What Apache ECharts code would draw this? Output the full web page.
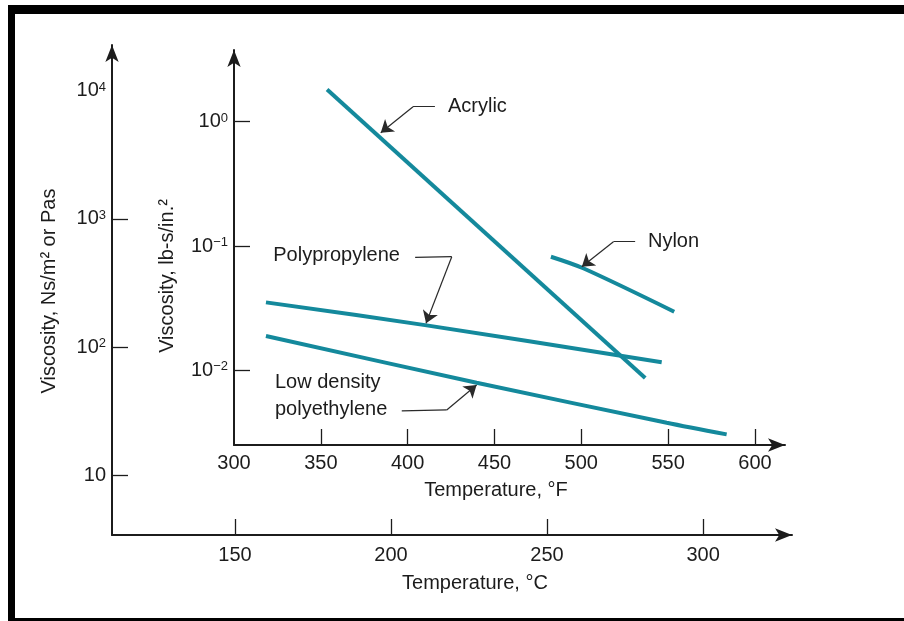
<!DOCTYPE html>
<html>
<head>
<meta charset="utf-8">
<script src="https://cdn.jsdelivr.net/npm/echarts@6/dist/echarts.min.js"></script>
<style>
html,body{margin:0;padding:0;background:#fff;}
#chart{width:904px;height:621px;}
</style>
</head>
<body>
<div id="chart"></div>
<script>
// ---- data (inner axes: temperature °F, viscosity lb-s/in.²) ----
const fahrenheitTicks = [300, 350, 400, 450, 500, 550, 600];
const celsiusTicks = [150, 200, 250, 300];
const pasTicks = [10, 100, 1000, 10000];
const pasTickMarks = [10, 100, 1000];
const lbTicks = [1, 0.1, 0.01];

const acrylic = [[353.6, 1.82], [536.8, 0.00867]];
const nylon = [[482.5, 0.082], [501.1, 0.0662], [553.5, 0.0296]];
const polypropylene = [[318.4, 0.0352], [410.0, 0.0231], [546.3, 0.01159]];
const ldpe = [[318.4, 0.01888], [439.7, 0.00795], [549.2, 0.00379], [583.7, 0.00305]];

const labelNames = ['Acrylic', 'Nylon', 'Polypropylene', 'Low density', 'polyethylene'];
const labelX = [423.2, 538.4, 322.6, 323.6, 323.6];
const labelY = [1.32, 0.1083, 0.0836, 0.00795, 0.00486];

const leaderAcrylic = [[415.7, 1.32], [403.1, 1.32], [384.5, 0.816]];
const leaderNylon = [[531.0, 0.1083], [518.5, 0.1083], [500.3, 0.0682]];
const leaderPoly = [[404.3, 0.0811], [425.4, 0.0820], [410.6, 0.02388]];
const leaderLdpe = [[396.6, 0.00471], [422.5, 0.0048], [439.7, 0.00762]];
const leaders = [leaderAcrylic, leaderNylon, leaderPoly, leaderLdpe];

const FONT = 'Liberation Sans, Arial, sans-serif';
const INK = '#1c1c1c';
const TEAL = '#14899c';

function powLabel(v, plainTen) {
  const e = Math.round(Math.log10(v));
  if (plainTen && e === 1) return '{b|10}';
  const s = e < 0 ? '\u2212' + (-e) : String(e);
  return '{b|10}{s|' + s + '}';
}
const rich = {
  b: {fontSize: 20, lineHeight: 20, fontFamily: FONT, color: INK},
  s: {fontSize: 13, lineHeight: 13, fontFamily: FONT, color: INK, verticalAlign: 'top'}
};

const axisLineStyle = {color: INK, width: 2};
const tickStyle = {color: INK, width: 1.3};

const chart = echarts.init(document.getElementById('chart'), null, {renderer: 'canvas'});
const option = {
  animation: false,
  backgroundColor: '#fff',
  grid: [
    {left: 112, top: 45, right: 112, bottom: 86, outerBoundsMode: 'none', containLabel: false},
    {left: 234, top: 50, right: 119, bottom: 176, outerBoundsMode: 'none', containLabel: false}
  ],
  xAxis: [
    {
      type: 'value', gridIndex: 0, min: 110.58, max: 328.5,
      axisLine: {show: true, lineStyle: axisLineStyle, symbol: ['none', 'arrow'], symbolSize: [10, 17]},
      axisTick: {show: true, inside: true, length: 16, lineStyle: tickStyle, customValues: celsiusTicks},
      axisLabel: {show: true, margin: 10, fontSize: 20, fontFamily: FONT, color: INK, customValues: celsiusTicks},
      splitLine: {show: false}
    },
    {
      type: 'value', gridIndex: 1, min: 300, max: 617.3,
      axisLine: {show: true, lineStyle: axisLineStyle, symbol: ['none', 'arrow'], symbolSize: [10, 17]},
      axisTick: {show: true, inside: true, length: 16, lineStyle: tickStyle, customValues: fahrenheitTicks.slice(1)},
      axisLabel: {show: true, margin: 8, fontSize: 20, fontFamily: FONT, color: INK, customValues: fahrenheitTicks},
      splitLine: {show: false}
    }
  ],
  yAxis: [
    {
      type: 'log', logBase: 10, gridIndex: 0, min: 3.40, max: 22856,
      axisLine: {show: true, lineStyle: axisLineStyle, symbol: ['none', 'arrow'], symbolSize: [10, 17]},
      axisTick: {show: true, inside: true, length: 16, lineStyle: tickStyle, customValues: pasTickMarks},
      axisLabel: {show: true, margin: 6, rich: rich, customValues: pasTicks, formatter: v => powLabel(v, true)},
      splitLine: {show: false}, minorTick: {show: false}
    },
    {
      type: 'log', logBase: 10, gridIndex: 1, min: 0.002506, max: 3.776,
      axisLine: {show: true, lineStyle: axisLineStyle, symbol: ['none', 'arrow'], symbolSize: [10, 17]},
      axisTick: {show: true, inside: true, length: 16, lineStyle: tickStyle, customValues: lbTicks},
      axisLabel: {show: true, margin: 6, rich: rich, customValues: lbTicks, formatter: v => powLabel(v, false)},
      splitLine: {show: false}, minorTick: {show: false}
    }
  ],
  series: [
    {name: 'Acrylic', type: 'line', xAxisIndex: 1, yAxisIndex: 1, data: acrylic, symbol: 'none', lineStyle: {color: TEAL, width: 4}, z: 3},
    {name: 'Nylon', type: 'line', xAxisIndex: 1, yAxisIndex: 1, data: nylon, symbol: 'none', smooth: 0.3, lineStyle: {color: TEAL, width: 4}, z: 3},
    {name: 'Polypropylene', type: 'line', xAxisIndex: 1, yAxisIndex: 1, data: polypropylene, symbol: 'none', smooth: 0.3, lineStyle: {color: TEAL, width: 4}, z: 3},
    {name: 'Low density polyethylene', type: 'line', xAxisIndex: 1, yAxisIndex: 1, data: ldpe, symbol: 'none', smooth: 0.3, lineStyle: {color: TEAL, width: 4}, z: 3},
    {
      name: 'leader tails', type: 'lines', coordinateSystem: 'cartesian2d', xAxisIndex: 1, yAxisIndex: 1,
      polyline: false, symbol: ['none', 'none'],
      lineStyle: {color: '#2a2a2a', width: 1.2, opacity: 1, curveness: 0},
      data: leaders.map(c => ({coords: [c[0], c[1]]})),
      z: 4, silent: true
    },
    {
      name: 'leader arrows', type: 'lines', coordinateSystem: 'cartesian2d', xAxisIndex: 1, yAxisIndex: 1,
      polyline: false, symbol: ['none', 'arrow'], symbolSize: 12,
      lineStyle: {color: '#2a2a2a', width: 1.2, opacity: 1, curveness: 0},
      data: leaders.map(c => ({coords: [c[1], c[2]]})),
      z: 4, silent: true
    },
    {
      name: 'labels', type: 'scatter', xAxisIndex: 1, yAxisIndex: 1, symbolSize: 0, silent: true,
      itemStyle: {opacity: 1},
      data: labelNames.map((n, i) => [labelX[i], labelY[i], n]),
      label: {show: true, position: 'right', distance: 0, formatter: p => p.data[2],
              fontSize: 20, fontFamily: FONT, color: INK, opacity: 1},
      z: 5
    }
  ],
  graphic: [
    {type: 'rect', shape: {x: 8, y: 5, width: 7, height: 616}, style: {fill: '#000'}},
    {type: 'rect', shape: {x: 8, y: 5, width: 896, height: 9}, style: {fill: '#000'}},
    {type: 'rect', shape: {x: 8, y: 618, width: 896, height: 3}, style: {fill: '#000'}},
    {type: 'text', x: 49, y: 291, rotation: Math.PI / 2,
     style: {text: 'Viscosity, Ns/m\u00B2 or Pas', fontSize: 20, fontFamily: FONT, fill: INK, align: 'center', verticalAlign: 'middle'}},
    {type: 'text', x: 167, y: 276, rotation: Math.PI / 2,
     style: {text: 'Viscosity, lb-s/in.\u00B2', fontSize: 20, fontFamily: FONT, fill: INK, align: 'center', verticalAlign: 'middle'}},
    {type: 'text', x: 496, y: 490,
     style: {text: 'Temperature, \u00B0F', fontSize: 20, fontFamily: FONT, fill: INK, align: 'center', verticalAlign: 'middle'}},
    {type: 'text', x: 475, y: 583,
     style: {text: 'Temperature, \u00B0C', fontSize: 20, fontFamily: FONT, fill: INK, align: 'center', verticalAlign: 'middle'}}
  ]
};
chart.setOption(option);
</script>
</body>
</html>
